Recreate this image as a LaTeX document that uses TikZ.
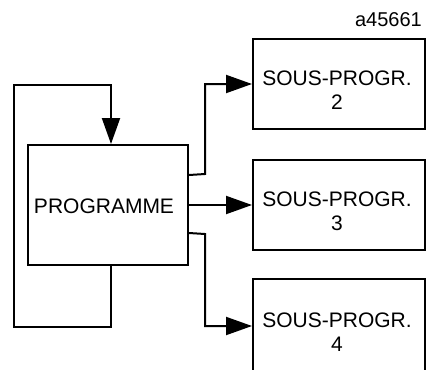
\documentclass[tikz,border=0pt]{standalone}
\usepackage{fontspec}
\setmainfont{Liberation Sans}
\usetikzlibrary{arrows.meta}
\begin{document}
\begin{tikzpicture}[x=1pt,y=-1pt,
  box/.style={draw,line width=2pt,minimum width=#1,inner sep=0pt},
  box/.default=172pt,
  lbl/.style={font=\fontsize{21}{24}\selectfont,align=center,inner sep=0pt},
  conn/.style={line width=2pt},
  arr/.style={conn,-{Triangle[length=26pt,width=18pt]}}]
\useasboundingbox (0,0) rectangle (427,369);
% main program and the three sub-programs
\node[box=160pt,minimum height=120pt] (prog) at (108,205) {};
\node[box,minimum height=90pt] (s2) at (339,84) {};
\node[box,minimum height=90pt] (s3) at (339,205) {};
\node[box,minimum height=94pt] (s4) at (339,326) {};
\node[lbl] (tprog) at ([xshift=-4pt,yshift=-1pt]prog.center) {PROGRAMME};
\node[lbl] (t2) at ([xshift=-2pt,yshift=-6pt]s2.center) {SOUS-PROGR.\\2};
\node[lbl] (t3) at ([xshift=-2pt,yshift=-6pt]s3.center) {SOUS-PROGR.\\3};
\node[lbl] (t4) at ([xshift=-2pt,yshift=-6pt]s4.center) {SOUS-PROGR.\\4};
\node[font=\fontsize{20}{24}\selectfont,anchor=base east,inner sep=0pt] (ref) at (422,27) {a45661};
% loop back into the program
\coordinate (lb) at (14,327);
\coordinate (lt) at (14,85);
\draw[arr] ([xshift=3pt]prog.south) |- (lb) -- (lt) -| ([xshift=3pt]prog.north);
% calls to the sub-programs
\coordinate (up) at (205,174);
\coordinate (dn) at (205,234);
\draw[arr] ([yshift=30pt]prog.east) -- (up) |- (s2.west);
\draw[arr] (prog.east) -- (s3.west);
\draw[arr] ([yshift=-28pt]prog.east) -- (dn) |- (s4.west);
\end{tikzpicture}
\end{document}
